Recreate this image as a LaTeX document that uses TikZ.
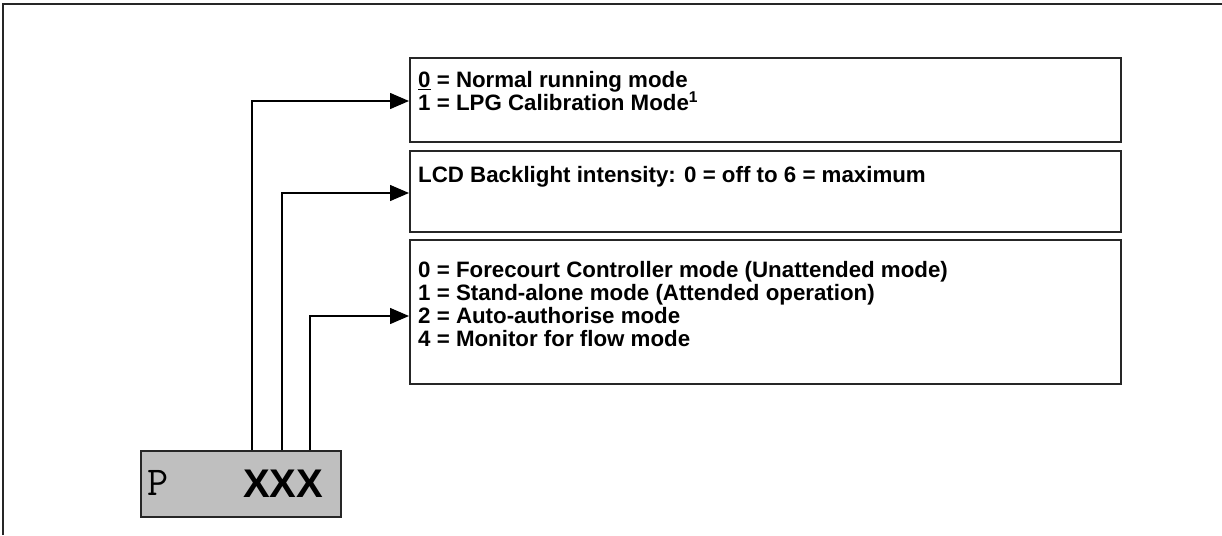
\documentclass[tikz,border=0pt]{standalone}
\usepackage{fontspec}
\setmainfont{Liberation Sans}
\usetikzlibrary{arrows.meta,calc}
\begin{document}
\begin{tikzpicture}[x=1pt,y=-1pt,
  frameline/.style={line width=1.6pt,black!85},
  infobox/.style={draw=black!85,line width=1.8pt,rectangle,inner sep=0pt,anchor=north west,minimum width=711pt},
  infotext/.style={anchor=north west,inner sep=0pt,align=left,font=\fontsize{22.3}{23}\selectfont\bfseries},
  regbox/.style={draw=black!85,line width=1.6pt,fill=black!25,rectangle,inner sep=0pt,anchor=north west,minimum width=200pt,minimum height=66pt},
  conn/.style={line width=1.4pt,-{Triangle[length=19pt,width=16pt]}}
]
\useasboundingbox (0,0) rectangle (1222,535);
\draw[frameline] (3,535) -- (3,4) -- (1222,4);

\node[infobox,minimum height=84pt] (b1) at (409,57) {};
\node[infobox,minimum height=81pt] (b2) at (409,150) {};
\node[infobox,minimum height=144pt] (b3) at (409,239) {};

\node[infotext] (t1) at (418,71) {\underline{0} = Normal running mode\\1 = LPG Calibration Mode\textsuperscript{1}};
\node[infotext] (t2) at (418,166) {LCD Backlight intensity: 0 = off to 6 = maximum};
\node[infotext] (t3) at (418,261) {0 = Forecourt Controller mode (Unattended mode)\\1 = Stand-alone mode (Attended operation)\\2 = Auto-authorise mode\\4 = Monitor for flow mode};

\node[regbox] (reg) at (140,450) {};
\node[anchor=base west,inner sep=0pt,font=\fontsize{41}{43}\selectfont\ttfamily] (p) at (147,495) {P};
\node[anchor=base west,inner sep=0pt,font=\fontsize{40}{42}\selectfont\bfseries] (xxx) at (243,497) {XXX};

\coordinate (s1) at (252,450);
\coordinate (s2) at (282,450);
\coordinate (s3) at (310,450);
\draw[conn] (s1) |- (b1.west |- 0,101);
\draw[conn] (s2) |- (b2.west |- 0,193);
\draw[conn] (s3) |- (b3.west |- 0,316);
\end{tikzpicture}
\end{document}
